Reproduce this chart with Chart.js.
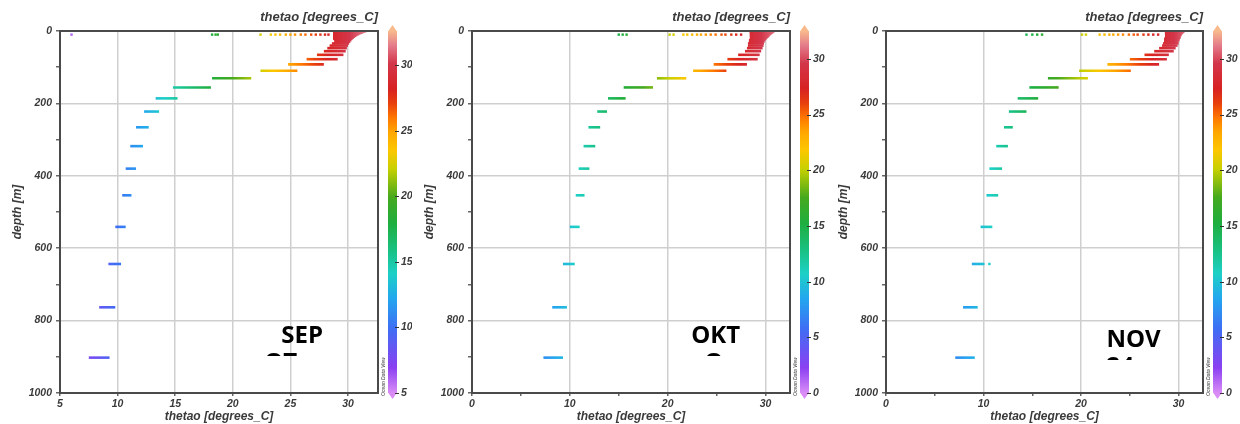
<!DOCTYPE html>
<html lang="en">
  <head>
    <meta charset="UTF-8" />
    <script src="https://cdn.jsdelivr.net/npm/chart.js"></script>
    <style>
      body {
        margin: 0;
        background: #ffffff;
        width: 1240px;
        height: 424px;
        overflow: hidden;
        position: relative;
      }
      canvas {
        position: absolute;
        top: 0;
      }
    </style>
  </head>
  <body>
    <canvas id="sepChart" width="412" height="424" style="left: 0"></canvas>
    <canvas id="oktChart" width="414" height="424" style="left: 412px"></canvas>
    <canvas id="novChart" width="414" height="424" style="left: 826px"></canvas>

    <script>
      // model depth levels [m]
      const depths = [
        0.5, 1.5, 2.6, 3.8, 5.1, 6.4, 7.9, 9.6, 11.4, 13.5, 15.8, 18.5, 21.6,
        25.2, 29.4, 34.4, 40.3, 47.4, 55.8, 65.8, 77.9, 92.3, 109.7, 130.7,
        155.9, 186.1, 222.5, 266.0, 318.1, 380.2, 453.9, 541.1, 643.6, 763.3,
        902.3,
      ];

      // min / max thetao at each level
      const sepMin = [
        28.7, 28.7, 28.7, 28.7, 28.7, 28.7, 28.7, 28.7, 28.7, 28.7, 28.7,
        28.7, 28.7, 28.8, 28.8, 28.6, 28.4, 28.2, 27.9, 27.3, 26.4, 24.8,
        22.4, 18.2, 14.8, 13.3, 12.3, 11.6, 11.1, 10.7, 10.4, 9.8, 9.2, 8.4,
        7.5,
      ];
      const sepMax = [
        31.6, 31.5, 31.4, 31.3, 31.2, 31.1, 31.0, 30.9, 30.8, 30.7, 30.6,
        30.5, 30.4, 30.3, 30.2, 30.1, 30.0, 29.9, 29.8, 29.6, 29.1, 27.9,
        25.6, 21.6, 18.1, 15.2, 13.6, 12.7, 12.2, 11.6, 11.2, 10.7, 10.3, 9.8,
        9.3,
      ];
      const oktMin = [
        28.4, 28.4, 28.4, 28.4, 28.4, 28.4, 28.4, 28.4, 28.4, 28.4, 28.4,
        28.4, 28.4, 28.3, 28.3, 28.2, 28.2, 28.1, 27.9, 27.2, 26.1, 24.7,
        22.6, 18.9, 15.5, 13.9, 12.8, 11.9, 11.4, 10.9, 10.6, 10.0, 9.3, 8.2,
        7.3,
      ];
      const oktMax = [
        30.9, 30.9, 30.8, 30.8, 30.7, 30.6, 30.6, 30.5, 30.4, 30.4, 30.3,
        30.2, 30.1, 30.0, 29.9, 29.85, 29.8, 29.7, 29.55, 29.4, 29.2, 28.1,
        26.0, 21.9, 18.5, 15.7, 13.8, 13.1, 12.6, 12.0, 11.5, 11.0, 10.5, 9.7,
        9.3,
      ];
      const novMin = [
        28.6, 28.6, 28.6, 28.6, 28.6, 28.6, 28.6, 28.6, 28.6, 28.6, 28.6,
        28.6, 28.5, 28.5, 28.5, 28.4, 28.3, 28.0, 27.5, 26.5, 25.0, 22.7,
        19.8, 16.6, 14.7, 13.5, 12.6, 12.1, 11.3, 10.6, 10.3, 9.7, 8.8, 7.9,
        7.1,
      ];
      const novMax = [
        30.6, 30.6, 30.5, 30.5, 30.4, 30.4, 30.3, 30.3, 30.3, 30.2, 30.2,
        30.2, 30.1, 30.1, 30.0, 30.0, 29.9, 29.7, 29.5, 29.0, 28.8, 28.0,
        25.1, 20.7, 17.7, 15.6, 14.4, 13.0, 12.5, 11.9, 11.5, 10.9, 10.1, 9.4,
        9.1,
      ];

      // scattered near-surface values
      const surfaceDepth = 10;
      const sepSurface = [
        6.0, 18.2, 18.5, 18.7, 22.4, 23.3, 23.7, 24.1, 24.6, 25.0, 25.4, 25.9,
        26.3, 26.8, 27.2, 27.6, 28.0, 28.3,
      ];
      const oktSurface = [
        15.0, 15.4, 15.8, 20.2, 20.6, 21.6, 22.0, 22.5, 23.0, 23.4, 23.9,
        24.4, 24.9, 25.5, 25.9, 26.5, 27.0, 27.5,
      ];
      const novSurface = [
        14.4, 15.0, 15.5, 16.0, 20.1, 20.5, 21.9, 22.4, 22.9, 23.3, 23.8,
        24.3, 24.9, 25.4, 25.8, 26.4, 26.9, 27.4, 27.9,
      ];
      const novExtra = [{ x: 10.6, y: 643.6 }];

      const colorStops = [
        [0, "#d98cf6"],
        [0.07, "#8b40f2"],
        [0.18, "#3d6ff4"],
        [0.26, "#23a6ef"],
        [0.33, "#1dd0c6"],
        [0.39, "#19c286"],
        [0.47, "#1fae3e"],
        [0.54, "#45a91e"],
        [0.62, "#c9d000"],
        [0.67, "#fcc700"],
        [0.72, "#ffa700"],
        [0.76, "#ff7800"],
        [0.8, "#e8400c"],
        [0.84, "#d82222"],
        [0.91, "#d3364a"],
        [0.96, "#e47b8a"],
        [1, "#f8ba8c"],
      ];

      const fontFamily = "'Liberation Sans', Arial, sans-serif";
      const textColor = "#3a3a3a";

      function hexRgb(h) {
        return [1, 3, 5].map((i) => parseInt(h.slice(i, i + 2), 16));
      }

      function colorAt(v, lo, hi) {
        const f = Math.min(1, Math.max(0, (v - lo) / (hi - lo)));
        for (let i = 1; i < colorStops.length; i++) {
          if (f <= colorStops[i][0]) {
            const [f0, c0] = colorStops[i - 1];
            const [f1, c1] = colorStops[i];
            const t = (f - f0) / (f1 - f0);
            const a = hexRgb(c0);
            const b = hexRgb(c1);
            const m = a.map((v, k) => Math.round(v + (b[k] - v) * t));
            return `rgb(${m[0]}, ${m[1]}, ${m[2]})`;
          }
        }
        return colorStops[colorStops.length - 1][1];
      }

      function tempGradient(chart, lo, hi, vertical) {
        const { ctx, scales } = chart;
        let g;
        if (vertical) {
          const s = scales.cb;
          g = ctx.createLinearGradient(0, s.getPixelForValue(lo), 0, s.getPixelForValue(hi));
        } else {
          const s = scales.x;
          g = ctx.createLinearGradient(s.getPixelForValue(lo), 0, s.getPixelForValue(hi), 0);
        }
        colorStops.forEach(([f, c]) => g.addColorStop(f, c));
        return g;
      }

      const odvDecor = {
        id: "odvDecor",
        afterDraw(chart, args, opts) {
          const { ctx, chartArea: a, scales } = chart;
          const cb = scales.cb;
          ctx.save();

          // frame
          ctx.strokeStyle = "#4a4a4a";
          ctx.lineWidth = 2;
          ctx.strokeRect(a.left, a.top, a.right - a.left, a.bottom - a.top);

          // colour bar
          const x0 = a.right + 10;
          const w = 9;
          const yTop = cb.getPixelForValue(cb.max);
          const yBot = cb.getPixelForValue(cb.min);
          ctx.fillStyle = tempGradient(chart, cb.min, cb.max, true);
          ctx.fillRect(x0, yTop, w, yBot - yTop);
          ctx.fillStyle = colorStops[colorStops.length - 1][1];
          ctx.beginPath();
          ctx.moveTo(x0, yTop + 0.5);
          ctx.lineTo(x0 + w / 2, yTop - 6);
          ctx.lineTo(x0 + w, yTop + 0.5);
          ctx.fill();
          ctx.fillStyle = colorStops[0][1];
          ctx.beginPath();
          ctx.moveTo(x0, yBot - 0.5);
          ctx.lineTo(x0 + w / 2, yBot + 6);
          ctx.lineTo(x0 + w, yBot - 0.5);
          ctx.fill();
          ctx.strokeStyle = "#333";
          ctx.lineWidth = 1;
          cb.ticks.forEach((t) => {
            const y = Math.round(cb.getPixelForValue(t.value)) + 0.5;
            ctx.beginPath();
            ctx.moveTo(x0 + w - 2, y);
            ctx.lineTo(x0 + w + 2, y);
            ctx.stroke();
          });

          // Ocean Data View tag
          ctx.save();
          ctx.translate(a.right + 6, yBot + 3);
          ctx.rotate(-Math.PI / 2);
          ctx.font = `italic 5px ${fontFamily}`;
          ctx.fillStyle = "#333";
          ctx.textBaseline = "middle";
          ctx.fillText("Ocean Data View", 0, 0);
          ctx.restore();

          // month label
          const lx = scales.x.getPixelForValue(opts.at[0]);
          const ly = scales.y.getPixelForValue(opts.at[1]);
          ctx.fillStyle = "#000";
          ctx.font = "bold 24px 'Open Sans', sans-serif";
          ctx.textBaseline = "alphabetic";
          ctx.fillText(opts.month, lx, ly);
          ctx.beginPath();
          ctx.rect(lx - 40, ly + 9, 120, 4);
          ctx.clip();
          ctx.fillText(opts.second, lx + opts.secondShift, ly + 27);
          ctx.restore();
        },
      };

      function makeChart(id, tMin, tMax, surface, extra, setup) {
        const { xMin, xMax, gridEvery, labelEvery, rightWidth, month, second, secondShift, at } = setup;
        const lineColor = (c) => {
          if (!c.chart.chartArea) return "#888";
          return tempGradient(c.chart, xMin, xMax, false);
        };
        const datasets = depths.map((d, i) => ({
          data: [
            { x: tMin[i], y: d },
            { x: tMax[i], y: d },
          ],
          showLine: true,
          pointRadius: 0,
          borderWidth: 2.6,
          borderColor: lineColor,
        }));
        datasets.push({
          data: surface.map((t) => ({ x: t, y: surfaceDepth })).concat(extra),
          showLine: false,
          pointStyle: "rect",
          pointRadius: 1.7,
          pointBorderWidth: 0,
          pointBackgroundColor: (c) => colorAt(c.raw ? c.raw.x : 0, xMin, xMax),
        });

        const tickFont = { family: fontFamily, size: 10.5, style: "italic", weight: "bold" };
        const titleFont = { family: fontFamily, size: 12, style: "italic", weight: "bold" };

        return new Chart(document.getElementById(id), {
          type: "scatter",
          data: { datasets },
          plugins: [odvDecor],
          options: {
            responsive: false,
            animation: false,
            events: [],
            layout: { padding: 0 },
            plugins: {
              legend: { display: false },
              tooltip: { enabled: false },
              title: {
                display: true,
                text: "thetao [degrees_C]",
                align: "end",
                fullSize: false,
                color: textColor,
                font: { family: fontFamily, size: 13, style: "italic", weight: "bold" },
                padding: { top: 10, bottom: 5.4 },
              },
              odvDecor: { month, second, secondShift, at },
            },
            scales: {
              x: {
                type: "linear",
                min: xMin,
                max: xMax,
                afterFit: (s) => {
                  s.height = 31;
                },
                border: { display: false },
                grid: {
                  color: (c) =>
                    c.tick && c.tick.value % gridEvery === 0 ? "#cfcfcf" : "rgba(0,0,0,0)",
                  lineWidth: 1.5,
                  tickColor: "#666",
                  tickLength: 3,
                },
                ticks: {
                  stepSize: 5,
                  includeBounds: false,
                  autoSkip: false,
                  maxRotation: 0,
                  padding: 2,
                  color: textColor,
                  font: tickFont,
                  callback: (v) => (v % labelEvery === 0 ? v : ""),
                },
                title: {
                  display: true,
                  text: "thetao [degrees_C]",
                  color: textColor,
                  font: titleFont,
                  padding: { top: 0, bottom: 0 },
                },
              },
              y: {
                type: "linear",
                reverse: true,
                min: 0,
                max: 1000,
                afterFit: (s) => {
                  s.width = 60;
                },
                border: { display: false },
                grid: {
                  color: (c) =>
                    c.tick && c.tick.value % 200 === 0 ? "#cfcfcf" : "rgba(0,0,0,0)",
                  lineWidth: 1.5,
                  tickColor: "#666",
                  tickLength: 4,
                },
                ticks: {
                  stepSize: 100,
                  autoSkip: false,
                  padding: 4,
                  color: textColor,
                  font: tickFont,
                  callback: (v) => (v % 200 === 0 ? v : ""),
                },
                title: {
                  display: true,
                  text: "depth [m]",
                  color: textColor,
                  font: titleFont,
                  padding: { top: 10, bottom: 0 },
                },
              },
              cb: {
                type: "linear",
                position: "right",
                min: xMin,
                max: xMax,
                afterFit: (s) => {
                  s.width = rightWidth;
                },
                border: { display: false },
                grid: {
                  drawOnChartArea: false,
                  drawTicks: true,
                  tickLength: 22,
                  tickColor: "rgba(0,0,0,0)",
                },
                ticks: {
                  stepSize: 5,
                  includeBounds: false,
                  autoSkip: false,
                  padding: 1,
                  color: textColor,
                  font: tickFont,
                },
              },
            },
          },
        });
      }

      makeChart("sepChart", sepMin, sepMax, sepSurface, [], {
        xMin: 5,
        xMax: 32.6,
        gridEvery: 5,
        labelEvery: 5,
        rightWidth: 34,
        month: "SEP",
        second: "OT",
        secondShift: -17,
        at: [24.2, 862],
      });
      makeChart("oktChart", oktMin, oktMax, oktSurface, [], {
        xMin: 0,
        xMax: 32.5,
        gridEvery: 10,
        labelEvery: 10,
        rightWidth: 36,
        month: "OKT",
        second: "O",
        secondShift: 13,
        at: [22.4, 862],
      });
      makeChart("novChart", novMin, novMax, novSurface, novExtra, {
        xMin: 0,
        xMax: 32.5,
        gridEvery: 10,
        labelEvery: 10,
        rightWidth: 37,
        month: "NOV",
        second: "24",
        secondShift: 0,
        at: [22.6, 873],
      });
    </script>
  </body>
</html>
